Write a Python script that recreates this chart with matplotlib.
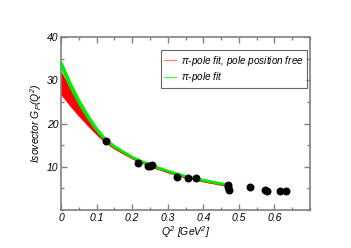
import matplotlib
matplotlib.use("Agg")
import matplotlib.pyplot as plt
from matplotlib.ticker import MultipleLocator

plt.rcParams["font.family"] = ["Liberation Sans", "DejaVu Sans"]
plt.rcParams["font.style"] = "italic"
plt.rcParams["mathtext.fontset"] = "custom"
plt.rcParams["mathtext.it"] = "Liberation Sans:italic"
plt.rcParams["mathtext.rm"] = "Liberation Sans:italic"

# curve grid (Q^2 in GeV^2)
q2_curve = [0.0, 0.025, 0.05, 0.075, 0.1, 0.125, 0.15, 0.2, 0.25, 0.3, 0.35, 0.4, 0.47]
# pi-pole fit band
green_hi = [34.5, 29.8, 25.7, 22.2, 19.1, 16.6, 15.0, 12.5, 10.7, 9.3, 8.1, 7.2, 6.1]
green_lo = [32.9, 28.3, 24.4, 21.1, 18.2, 15.9, 14.5, 12.1, 10.3, 8.9, 7.7, 6.8, 5.7]
# pi-pole fit with free pole position band
red_hi = [32.0, 28.0, 24.4, 21.1, 18.2, 16.0, 14.6, 12.2, 10.4, 9.0, 7.8, 6.9, 5.8]
red_lo = [26.8, 24.2, 21.8, 19.6, 17.5, 15.6, 14.2, 11.9, 10.1, 8.7, 7.5, 6.6, 5.5]

# lattice points
q2_data = [0.126, 0.217, 0.245, 0.250, 0.256, 0.325, 0.357, 0.379,
           0.469, 0.470, 0.471, 0.531, 0.575, 0.580, 0.615, 0.634]
gp_data = [16.0, 10.8, 10.3, 10.2, 10.4, 7.7, 7.4, 7.4,
           5.8, 5.4, 4.6, 5.3, 4.6, 4.4, 4.3, 4.4]

fig = plt.figure(figsize=(3.51, 2.48), dpi=100)
ax = fig.add_axes([0.174, 0.153, 0.709, 0.697])

ax.fill_between(q2_curve, red_lo, red_hi, color="#ff0000", lw=0.6, zorder=2)
ax.fill_between(q2_curve, green_lo, green_hi, color="#00ee00", lw=0.8,
                edgecolor="#00ee00", zorder=3)
ax.plot(q2_data, gp_data, "o", color="black", ms=4.7, zorder=4)

ax.plot([], [], color="#ff8080", lw=0.9, label=r"$\pi$-pole fit, pole position free")
ax.plot([], [], color="#40ff40", lw=0.9, label=r"$\pi$-pole fit")
leg = ax.legend(loc="upper right", bbox_to_anchor=(0.99, 0.925), fontsize=7.2,
                frameon=True, fancybox=False, handlelength=1.2, handletextpad=0.5,
                borderpad=0.35, labelspacing=0.25, borderaxespad=0)
leg.get_frame().set_edgecolor("#404040")
leg.get_frame().set_linewidth(0.8)

ax.set_xlim(0, 0.7)
ax.set_ylim(0, 40)
ax.set_xticks([0, 0.1, 0.2, 0.3, 0.4, 0.5, 0.6])
ax.set_xticklabels(["0", "0.1", "0.2", "0.3", "0.4", "0.5", "0.6"])
ax.set_yticks([10, 20, 30, 40])
ax.xaxis.set_minor_locator(MultipleLocator(0.05))
ax.yaxis.set_minor_locator(MultipleLocator(5))
ax.tick_params(which="both", direction="in", top=True, right=True,
               labelsize=7.5, color="#808080", width=1, pad=2)
ax.tick_params(which="major", length=4)
ax.tick_params(which="minor", length=2.5)
for s in ax.spines.values():
    s.set_color("#808080")
    s.set_linewidth(1.2)

ax.set_xlabel(r"$Q^2$ [GeV$^2$]", fontsize=7.5, labelpad=1)
ax.set_ylabel(r"Isovector $G_P(Q^2)$", fontsize=7.5, labelpad=2)

fig.savefig("out.png", dpi=100)
